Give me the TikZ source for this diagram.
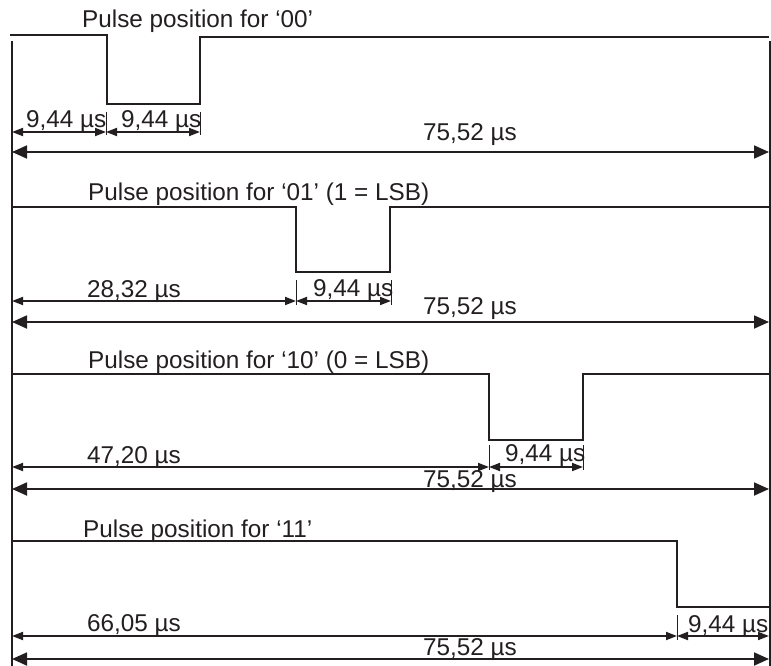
\documentclass[tikz,border=0pt]{standalone}
\usepackage{fontspec}
\setmainfont{Liberation Sans}
\usetikzlibrary{arrows.meta}
\definecolor{ink}{RGB}{35,31,32}
\begin{document}
\begin{tikzpicture}[x=1pt,y=-1pt,
  sig/.style={draw=ink,line width=2.4pt,line join=miter},
  border/.style={draw=ink,line width=1.4pt},
  dimsmall/.style={draw=ink,line width=1.8pt,{Triangle[length=11pt,width=8pt]}-{Triangle[length=11pt,width=8pt]}},
  dimbig/.style={draw=ink,line width=1.8pt,{Triangle[length=15pt,width=13pt]}-{Triangle[length=15pt,width=13pt]}},
  tickline/.style={draw=ink,line width=1pt},
  lbl/.style={anchor=base west,inner sep=0pt,text=ink,font=\fontsize{24.3}{28}\selectfont},
  clbl/.style={lbl,anchor=base}]
\useasboundingbox (0,0) rectangle (771,666);
% borders
\coordinate (L0) at (12,41); \coordinate (L1) at (12,666);
\coordinate (R0) at (770,41); \coordinate (R1) at (770,666);
\draw[border] (L0) -- (L1);
\draw[border] (R0) -- (R1);
% signal 1
\draw[sig] (10,35) -- (107,35) -- (107,104) -- (200,104) -- (200,37) -- (769,37);
\node[lbl] (t1) at (82,28) {Pulse position for ‘00’};
\draw[tickline] (106,112) -- (106,135);
\draw[tickline] (200,112) -- (200,135);
\coordinate (a1) at (12,132); \coordinate (b1) at (106,132); \coordinate (c1) at (200,132);
\draw[dimsmall] (a1) -- (b1);
\draw[dimsmall] (b1) -- (c1);
\coordinate (s1) at (12,152); \coordinate (e1) at (769,152);
\draw[dimbig] (s1) -- (e1);
\node[lbl] (d1a) at (26,128) {9,44 µs};
\node[lbl] (d1b) at (121,128) {9,44 µs};
\node[clbl] (d1t) at (470,141) {75,52 µs};
% signal 2
\draw[sig] (12,207) -- (296,207) -- (296,272) -- (390,272) -- (390,207) -- (769,207);
\node[lbl] (t2) at (88,200) {Pulse position for ‘01’ (1 = LSB)};
\draw[tickline] (296,280) -- (296,305);
\draw[tickline] (391,280) -- (391,305);
\coordinate (a2) at (12,301); \coordinate (b2) at (296,301); \coordinate (c2) at (391,301);
\draw[dimsmall] (a2) -- (b2);
\draw[dimsmall] (b2) -- (c2);
\coordinate (s2) at (12,322); \coordinate (e2) at (769,322);
\draw[dimbig] (s2) -- (e2);
\node[lbl] (d2a) at (87,297) {28,32 µs};
\node[lbl] (d2b) at (313,296) {9,44 µs};
\node[clbl] (d2t) at (470,314) {75,52 µs};
% signal 3
\draw[sig] (12,374) -- (489,374) -- (489,440) -- (583,440) -- (583,374) -- (769,374);
\node[lbl] (t3) at (88,368) {Pulse position for ‘10’ (0 = LSB)};
\draw[tickline] (489,445) -- (489,470);
\draw[tickline] (583,445) -- (583,470);
\coordinate (a3) at (12,467); \coordinate (b3) at (489,467); \coordinate (c3) at (583,467);
\draw[dimsmall] (a3) -- (b3);
\draw[dimsmall] (b3) -- (c3);
\coordinate (s3) at (12,489); \coordinate (e3) at (769,489);
\draw[dimbig] (s3) -- (e3);
\node[lbl] (d3a) at (87,463) {47,20 µs};
\node[lbl] (d3b) at (505,461) {9,44 µs};
\node[clbl] (d3t) at (470,487) {75,52 µs};
% signal 4
\draw[sig] (12,541) -- (677,541) -- (677,607) -- (769,607);
\node[lbl] (t4) at (83,537) {Pulse position for ‘11’};
\draw[tickline] (677,615) -- (677,640);
\coordinate (a4) at (12,636); \coordinate (b4) at (677,636); \coordinate (c4) at (769,636);
\draw[dimsmall] (a4) -- (b4);
\draw[dimsmall] (b4) -- (c4);
\coordinate (s4) at (12,659); \coordinate (e4) at (769,659);
\draw[dimbig] (s4) -- (e4);
\node[lbl] (d4a) at (87,631) {66,05 µs};
\node[lbl] (d4b) at (688,632) {9,44 µs};
\node[clbl] (d4t) at (470,655) {75,52 µs};
\end{tikzpicture}
\end{document}
